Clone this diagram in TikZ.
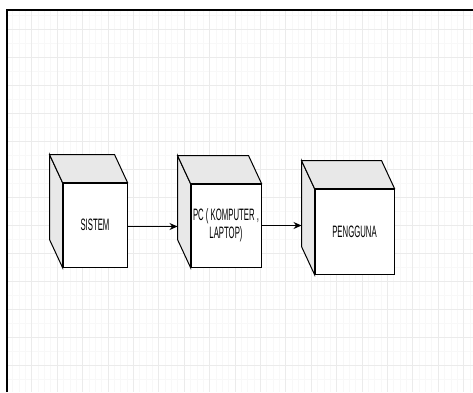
\documentclass[tikz,border=0pt]{standalone}
\usepackage{fontspec}
\setmainfont{Liberation Sans}
\usetikzlibrary{arrows.meta,calc}
\definecolor{facegray}{HTML}{E8E8E8}
\definecolor{gridminor}{HTML}{F8F8F8}
\definecolor{gridmajor}{HTML}{EBEBEB}
\newcommand{\squeeze}[1]{\scalebox{0.47}[1]{#1}}
\tikzset{
  frontface/.style={draw=black, fill=white, line width=1pt, inner sep=0pt, align=center,
    font=\fontsize{16.5}{18}\selectfont},
  sideface/.style={draw=black, fill=facegray, line width=1pt, line join=miter},
  flow/.style={draw=black, line width=1.1pt, -{Stealth[length=8pt,width=7pt]}},
  gridminorline/.style={draw=gridminor, line width=0.6pt},
  gridmajorline/.style={draw=gridmajor, line width=0.7pt}
}
\begin{document}
\begin{tikzpicture}[x=1pt, y=-1pt]
  \useasboundingbox (0,0) rectangle (473,392);
  \fill[white] (0,0) rectangle (473,392);
  % grid
  \begin{scope}
    \clip (7,10) rectangle (473,392);
    \foreach \x in {6.3,12.65,...,473} \draw[gridminorline] (\x,10) -- (\x,392);
    \foreach \y in {15,29,...,392} \draw[gridminorline] (7,\y) -- (473,\y);
    \foreach \x in {31.7,57.1,...,473} \draw[gridmajorline] (\x,10) -- (\x,392);
    \foreach \y in {29,57,...,392} \draw[gridmajorline] (7,\y) -- (473,\y);
  \end{scope}
  % border
  \draw[line width=2pt] (7,392) -- (7,10) -- (473,10);

  % cubes: front faces
  \node[frontface, minimum width=64pt, minimum height=84pt] (b1) at (95,225) {\squeeze{SISTEM}};
  \node[frontface, minimum width=70pt, minimum height=83pt] (b2) at (226,225.5)
    {\squeeze{\begin{tabular}{@{}c@{}}PC ( KOMPUTER ,\\ LAPTOP)\end{tabular}}};
  \node[frontface, minimum width=79pt, minimum height=85pt] (b3) at (354.5,231.5) {\squeeze{PENGGUNA}};

  % cubes: side and top faces
  \foreach \b in {b1,b2,b3}{
    \draw[sideface] (\b.north west) -- ++(-13,-28) -- ($(\b.south west)+(-13,-28)$) -- (\b.south west) -- cycle;
    \draw[sideface] (\b.north west) -- ++(-13,-28) -- ($(\b.north east)+(-13,-28)$) -- (\b.north east) -- cycle;
  }

  % back-left edges as arrow targets
  \coordinate (s2) at ($(b2.west)+(-13,0)$);
  \coordinate (s3) at ($(b3.west)+(-13,0)$);

  % connectors
  \draw[flow] ($(b1.east)+(0,1.5)$) -- ($(b1.east -| s2)+(0,1.5)$);
  \draw[flow] (b2.east) -- (b2.east -| s3);
\end{tikzpicture}
\end{document}
